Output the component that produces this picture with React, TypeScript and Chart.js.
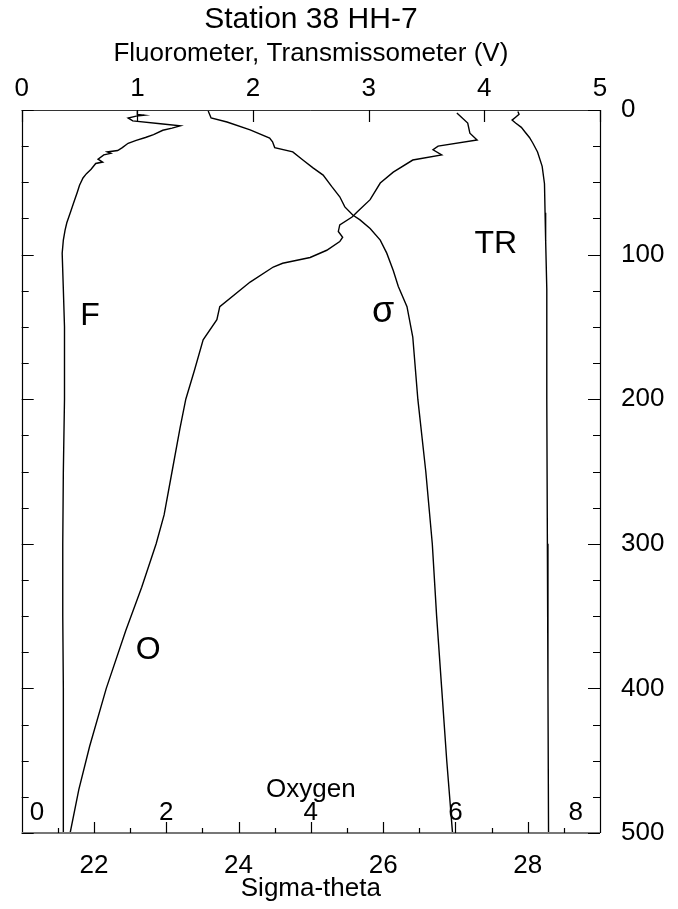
import React, { useEffect, useRef } from 'react';
import { Chart, registerables } from 'chart.js';

Chart.register(...registerables);

const FONT = '"Liberation Sans", Arial, Helvetica, sans-serif';

// ---- text ----
const titleText = 'Station 38 HH-7';
const topAxisTitle = 'Fluorometer, Transmissometer (V)';
const bottomAxisTitle = 'Sigma-theta';
const oxygenAxisTitle = 'Oxygen';

// ---- tick labels ----
const topTicks = [0, 1, 2, 3, 4, 5];
const depthTicks = [0, 100, 200, 300, 400, 500];
const sigmaTicks = [22, 24, 26, 28];
const oxygenTicks = [0, 2, 4, 6, 8];

// ---- Fluorometer (V) vs depth (m) ----
const fDepth = [0.5, 3, 3.6, 4.2, 5.5, 7.5, 9.5, 11, 12.5, 14, 17, 19, 21, 23, 26, 28, 29, 30, 31, 34, 36, 37, 41, 44, 47, 52, 57, 64, 71, 78, 83, 90, 99, 124, 150, 200, 250, 300, 350, 400, 450, 500];
const fVolts = [1.0, 1.0, 1.06, 0.99, 0.92, 0.96, 1.2, 1.37, 1.3, 1.22, 1.14, 1.07, 0.99, 0.92, 0.87, 0.83, 0.74, 0.77, 0.71, 0.66, 0.7, 0.64, 0.6, 0.56, 0.53, 0.5, 0.48, 0.45, 0.42, 0.39, 0.375, 0.36, 0.35, 0.36, 0.37, 0.37, 0.36, 0.355, 0.355, 0.36, 0.36, 0.36];

// ---- Transmissometer (V) vs depth ----
const trDepth = [1, 3, 5, 7, 9, 12, 15, 19, 23, 29, 39, 51, 71, 90, 124, 200, 300, 400, 500];
const trVolts = [4.29, 4.3, 4.27, 4.24, 4.27, 4.32, 4.35, 4.39, 4.42, 4.46, 4.5, 4.52, 4.525, 4.53, 4.54, 4.54, 4.545, 4.55, 4.555];

// ---- Oxygen vs depth ----
const oDepth = [2, 9, 16, 20.7, 25, 27.5, 31, 34.6, 43, 50.5, 62, 70.5, 74, 79.5, 84, 88, 91, 97, 102, 106, 108.6, 119, 136, 145, 159, 180, 200, 220, 250, 280, 300, 330, 360, 400, 440, 470, 500];
const oVals = [6.02, 6.17, 6.2, 6.3, 5.76, 5.69, 5.81, 5.41, 5.14, 4.96, 4.82, 4.64, 4.57, 4.4, 4.38, 4.44, 4.4, 4.22, 3.99, 3.61, 3.48, 3.16, 2.74, 2.7, 2.51, 2.39, 2.27, 2.19, 2.08, 1.97, 1.86, 1.66, 1.44, 1.17, 0.94, 0.79, 0.67];

// ---- Sigma-theta vs depth ----
const sDepth = [0.7, 5.5, 8.3, 13.8, 19.4, 22, 26, 29, 34.6, 40, 45, 53, 60, 67, 72.6, 76, 82, 90, 99, 111, 122, 136, 157, 200, 250, 300, 350, 400, 450, 500];
const sVals = [23.58, 23.62, 23.84, 24.16, 24.43, 24.47, 24.5, 24.75, 24.89, 25.03, 25.17, 25.29, 25.4, 25.47, 25.58, 25.68, 25.82, 25.96, 26.05, 26.14, 26.21, 26.33, 26.41, 26.48, 26.59, 26.68, 26.74, 26.81, 26.88, 26.96];

// ---- curve name labels (axis, value, depth) ----
const curveLabelText = ['F', 'TR', 'σ', 'O'];
const curveLabelAxis = ['xTop', 'xTop', 'xSigma', 'xOxy'];
const curveLabelValue = [0.59, 4.1, 26.0, 1.75];
const curveLabelDepth = [142.5, 92.7, 139.7, 373.4];

const toPoints = (xs: number[], ys: number[]) => xs.map((x, i) => ({ x, y: ys[i] }));

const decorPlugin = {
  id: 'decor',
  afterDraw(chart: any) {
    const ctx = chart.ctx as CanvasRenderingContext2D;
    const { left, right, top, bottom } = chart.chartArea;
    const sx = chart.scales.xTop;
    const ss = chart.scales.xSigma;
    const so = chart.scales.xOxy;
    const sd = chart.scales.depth;
    const r = (v: number) => Math.round(v) + 0.5;
    ctx.save();
    ctx.lineCap = 'butt';

    // borders
    ctx.strokeStyle = '#000';
    ctx.lineWidth = 1.2;
    ctx.beginPath();
    ctx.moveTo(r(left), top);
    ctx.lineTo(r(left), bottom);
    ctx.moveTo(r(right), top);
    ctx.lineTo(r(right), bottom);
    ctx.stroke();
    ctx.strokeStyle = '#333';
    ctx.lineWidth = 1;
    ctx.beginPath();
    ctx.moveTo(left, r(top));
    ctx.lineTo(right, r(top));
    ctx.stroke();
    ctx.strokeStyle = '#777';
    ctx.lineWidth = 2;
    ctx.beginPath();
    ctx.moveTo(left, Math.round(bottom));
    ctx.lineTo(right, Math.round(bottom));
    ctx.stroke();

    // inward ticks
    ctx.strokeStyle = '#000';
    ctx.lineWidth = 1.2;
    ctx.beginPath();
    for (let d = 0; d <= 500; d += 25) {
      const y = r(sd.getPixelForValue(d));
      const len = d % 100 === 0 ? 12 : 7;
      ctx.moveTo(left, y);
      ctx.lineTo(left + len, y);
      ctx.moveTo(right, y);
      ctx.lineTo(right - len, y);
    }
    topTicks.forEach((v) => {
      const x = r(sx.getPixelForValue(v));
      ctx.moveTo(x, top);
      ctx.lineTo(x, top + 12);
    });
    for (let s = 21.5; s < 29; s += 0.5) {
      const x = r(ss.getPixelForValue(s));
      const len = Number.isInteger(s) ? 11 : 5;
      ctx.moveTo(x, bottom);
      ctx.lineTo(x, bottom - len);
    }
    ctx.stroke();

    // oxygen inner axis labels
    ctx.fillStyle = '#000';
    ctx.textBaseline = 'middle';
    ctx.textAlign = 'center';
    ctx.font = `26px ${FONT}`;
    oxygenTicks.forEach((v) => {
      const label = String(v);
      const w = ctx.measureText(label).width;
      let x = so.getPixelForValue(v);
      x = Math.max(left + 8 + w / 2, Math.min(right - 17 - w / 2, x));
      ctx.fillText(label, x, bottom - 20);
    });
    ctx.fillText(oxygenAxisTitle, so.getPixelForValue(4), bottom - 43);

    // curve labels
    ctx.font = `32px ${FONT}`;
    curveLabelText.forEach((t, i) => {
      const x = chart.scales[curveLabelAxis[i]].getPixelForValue(curveLabelValue[i]);
      const y = sd.getPixelForValue(curveLabelDepth[i]);
      if (t === 'σ') ctx.font = `36px ${FONT}`;
      else ctx.font = `32px ${FONT}`;
      ctx.fillText(t, x, y);
    });
    ctx.restore();
  },
};

const lineStyle = {
  showLine: true,
  borderColor: '#000',
  backgroundColor: '#000',
  borderWidth: 1.4,
  pointRadius: 0,
  tension: 0,
  fill: false,
};

export default function App() {
  const ref = useRef<HTMLCanvasElement | null>(null);
  useEffect(() => {
    if (!ref.current) return;
    const tickFont = { family: FONT, size: 26 };
    const chart = new Chart(ref.current, {
      type: 'scatter',
      data: {
        datasets: [
          { label: 'F', data: toPoints(fVolts, fDepth), xAxisID: 'xTop', yAxisID: 'depth', ...lineStyle },
          { label: 'TR', data: toPoints(trVolts, trDepth), xAxisID: 'xTop', yAxisID: 'depth', ...lineStyle },
          { label: 'Oxygen', data: toPoints(oVals, oDepth), xAxisID: 'xOxy', yAxisID: 'depth', ...lineStyle },
          { label: 'Sigma-theta', data: toPoints(sVals, sDepth), xAxisID: 'xSigma', yAxisID: 'depth', ...lineStyle },
        ],
      },
      options: {
        responsive: false,
        animation: false,
        events: [],
        layout: { padding: { left: 21.7, right: 0, top: 0, bottom: 0 } },
        plugins: {
          legend: { display: false },
          tooltip: { enabled: false },
          title: {
            display: true,
            fullSize: false,
            text: titleText,
            color: '#000',
            font: { family: FONT, size: 30, weight: 'normal', lineHeight: 1.2 },
            padding: { top: 2, bottom: 0 },
          },
          subtitle: {
            display: true,
            fullSize: false,
            text: topAxisTitle,
            color: '#000',
            font: { family: FONT, size: 26, weight: 'normal', lineHeight: 1.2 },
            padding: { top: 0.5, bottom: 0 },
          },
        },
        scales: {
          xTop: {
            type: 'linear',
            position: 'top',
            min: 0,
            max: 5,
            afterBuildTicks: (s: any) => { s.ticks = topTicks.map((value) => ({ value })); },
            afterFit: (s: any) => { s.height = 110 - 69.7; },
            ticks: { color: '#000', font: tickFont, padding: -2, maxRotation: 0, autoSkip: false },
            grid: { display: false },
            border: { display: false },
          },
          xSigma: {
            type: 'linear',
            position: 'bottom',
            min: 21,
            max: 29,
            afterBuildTicks: (s: any) => { s.ticks = sigmaTicks.map((value) => ({ value })); },
            afterFit: (s: any) => { s.height = 909 - 833; },
            ticks: { color: '#000', font: tickFont, padding: 9.4, maxRotation: 0, autoSkip: false },
            grid: { display: false },
            border: { display: false },
            title: {
              display: true,
              text: bottomAxisTitle,
              color: '#000',
              font: { family: FONT, size: 26, lineHeight: 1.2 },
              padding: { top: 0, bottom: 5 },
            },
          },
          xOxy: {
            type: 'linear',
            display: false,
            min: 0,
            max: 8,
          },
          depth: {
            type: 'linear',
            position: 'right',
            min: 0,
            max: 500,
            reverse: true,
            afterBuildTicks: (s: any) => { s.ticks = depthTicks.map((value) => ({ value })); },
            afterFit: (s: any) => { s.width = 678 - 600; },
            ticks: { color: '#000', font: tickFont, padding: 13, autoSkip: false },
            grid: { display: false },
            border: { display: false },
          },
        },
      } as any,
      plugins: [decorPlugin],
    });
    return () => chart.destroy();
  }, []);

  return (
    <div style={{ position: 'absolute', left: 0, top: 0, width: 678, height: 909, background: '#fff' }}>
      <canvas ref={ref} width={678} height={909} style={{ display: 'block' }} />
    </div>
  );
}
